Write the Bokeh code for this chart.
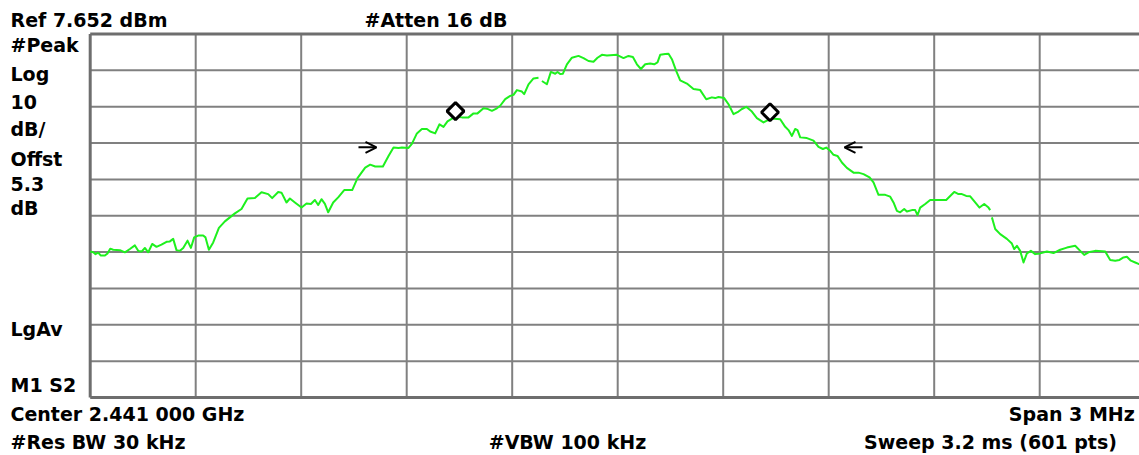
import math
from bokeh.plotting import figure
from bokeh.models import Label, Range1d, Arrow, OpenHead
from bokeh.embed import file_html
from bokeh.resources import INLINE

NaN = float("nan")

# ---- data (spectrum trace, MHz / dBm) ----
freq_mhz = [
    2439.5000, 2439.5085, 2439.5151, 2439.5227, 2439.5304, 2439.5418, 2439.5492, 2439.5569,
    2439.5654, 2439.5845, 2439.5987, 2439.6129, 2439.6271, 2439.6365, 2439.6459, 2439.6555,
    2439.6649, 2439.6763, 2439.6885, 2439.7027, 2439.7170, 2439.7266, 2439.7360, 2439.7454,
    2439.7551, 2439.7645, 2439.7767, 2439.7863, 2439.7957, 2439.8071, 2439.8213, 2439.8279,
    2439.8375, 2439.8498, 2439.8660, 2439.8830, 2439.8972, 2439.9115, 2439.9302, 2439.9473,
    2439.9683, 2439.9871, 2440.0062, 2440.0175, 2440.0346, 2440.0440, 2440.0582, 2440.0679,
    2440.0821, 2440.1009, 2440.1151, 2440.1276, 2440.1390, 2440.1483, 2440.1577, 2440.1674,
    2440.1768, 2440.1910, 2440.2052, 2440.2223, 2440.2450, 2440.2601, 2440.2820, 2440.2962,
    2440.3104, 2440.3323, 2440.3483, 2440.3625, 2440.3767, 2440.3864, 2440.4051, 2440.4148,
    2440.4290, 2440.4432, 2440.4574, 2440.4668, 2440.4810, 2440.4933, 2440.5046, 2440.5160,
    2440.5379, 2440.5570, 2440.5758, 2440.5900, 2440.6013, 2440.6184, 2440.6281, 2440.6423,
    2440.6565, 2440.6659, 2440.6801, 2440.6943, 2440.7037, 2440.7134, 2440.7276, 2440.7341,
    2440.7464, 2440.7606, 2440.7748, 2440.7800, 2440.7845, 2440.7987, 2440.8100, 2440.8223,
    2440.8288, 2440.8365, 2440.8442, 2440.8556, 2440.8698, 2440.8885, 2440.9028, 2440.9170,
    2440.9312, 2440.9426, 2440.9551, 2440.9693, 2440.9977, 2441.0165, 2441.0307, 2441.0432,
    2441.0546, 2441.0660, 2441.0782, 2441.0924, 2441.1038, 2441.1132, 2441.1209, 2441.1351,
    2441.1445, 2441.1541, 2441.1663, 2441.1777, 2441.1968, 2441.2155, 2441.2346, 2441.2517,
    2441.2679, 2441.2773, 2441.2866, 2441.3028, 2441.3151, 2441.3293, 2441.3435, 2441.3532,
    2441.3654, 2441.3816, 2441.3958, 2441.4146, 2441.4243, 2441.4385, 2441.4621, 2441.4763,
    2441.4857, 2441.4954, 2441.5047, 2441.5113, 2441.5190, 2441.5380, 2441.5568, 2441.5710,
    2441.5835, 2441.5929, 2441.6043, 2441.6137, 2441.6250, 2441.6375, 2441.6517, 2441.6706,
    2441.6848, 2441.6990, 2441.7161, 2441.7274, 2441.7416, 2441.7607, 2441.7749, 2441.7843,
    2441.7939, 2441.8033, 2441.8147, 2441.8224, 2441.8366, 2441.8460, 2441.8525, 2441.8602,
    2441.8744, 2441.8886, 2441.9077, 2441.9341, 2441.9455, 2441.9569, 2441.9691, 2441.9788,
    2441.9910, 2442.0024, 2442.0166, 2442.0288, 2442.0422, 2442.0544, 2442.0592, 2442.0615,
    2442.0641, 2442.0735, 2442.0877, 2442.1067, 2442.1209, 2442.1275, 2442.1352, 2442.1445,
    2442.1540, 2442.1636, 2442.1750, 2442.1872, 2442.2014, 2442.2205, 2442.2392, 2442.2583,
    2442.2773, 2442.3009, 2442.3152, 2442.3265, 2442.3388, 2442.3578, 2442.3863, 2442.4005,
    2442.4147, 2442.4269, 2442.4383, 2442.4479, 2442.4593, 2442.4716, 2442.4810, 2442.5000,
]
level_dbm = [
    -52.2, -52.4, -52.9, -52.5, -53.3, -53.3, -52.7, -51.4,
    -51.7, -51.8, -52.4, -51.5, -50.5, -52.0, -52.2, -51.2,
    -52.4, -50.1, -50.9, -50.3, -49.5, -49.4, -48.7, -51.8,
    -52.0, -51.2, -49.2, -51.2, -48.3, -47.8, -47.8, -48.3,
    -51.7, -49.7, -45.7, -43.9, -42.8, -41.7, -40.5, -37.6,
    -37.5, -35.9, -36.4, -37.5, -35.8, -36.0, -38.7, -37.6,
    -38.7, -40.1, -39.0, -39.1, -38.0, -39.4, -37.8, -39.1,
    -41.4, -38.7, -37.3, -35.3, -35.3, -32.0, -29.1, -28.3,
    -28.8, -28.8, -25.9, -23.6, -23.7, -23.6, -23.7, -22.6,
    -19.7, -18.5, -18.5, -19.2, -19.7, -17.2, -17.9, -16.4,
    -15.1, -15.3, -15.3, -14.2, -14.2, -12.8, -12.9, -13.5,
    -12.8, -12.1, -10.3, -9.4, -9.1, -7.8, -8.2, -8.9,
    -6.2, -4.6, -4.4, NaN, -5.3, -6.2, -2.8, -3.3,
    -2.8, -3.4, -3.3, -0.7, 1.1, 1.6, 1.0, 0.2,
    0.0, 1.1, 1.9, 1.7, 1.9, 1.0, 1.6, 1.3,
    -0.7, -2.0, -0.7, -0.5, -0.7, -0.2, 1.9, 2.1,
    2.2, 0.7, -2.5, -5.1, -6.0, -7.5, -7.8, -10.3,
    -9.8, -10.0, -9.7, -10.0, -11.7, -14.4, -13.7, -13.0,
    -12.4, -13.7, -15.5, -16.7, -16.2, -15.6, -15.8, -17.9,
    -18.8, -20.4, -18.5, -18.8, -20.8, -21.0, -21.7, -23.4,
    -24.0, -23.6, -24.5, -25.6, -25.9, -27.7, -29.2, -30.5,
    -30.5, -30.9, -31.8, -33.2, -36.6, -36.6, -37.1, -38.7,
    -41.0, -41.4, -40.5, -41.2, -40.8, -40.8, -42.2, -40.1,
    -39.1, -38.0, -38.0, -38.0, -36.9, -35.8, -36.4, -36.4,
    -36.9, -37.0, -38.7, -40.1, -39.1, -40.1, -40.8, NaN,
    -42.8, -46.0, -47.4, -48.7, -50.0, -51.5, -50.6, -52.0,
    -55.2, -52.7, -52.0, -52.9, -52.7, -52.2, -52.6, -51.7,
    -51.1, -50.6, -52.0, -53.1, -52.4, -52.0, -52.2, -54.5,
    -54.7, -54.5, -53.8, -53.6, -54.7, -55.2, -55.6, -55.8,
]

# markers (diamonds) and occupied-bandwidth arrows
marker_freq = [2440.5388, 2441.4331]
marker_level = [-13.58, -13.90]
obw_arrow_tail = [2440.2629, 2441.6961]
obw_arrow_head = [2440.3141, 2441.6449]
obw_arrow_level = [-23.53, -23.53]

# graticule
ref_level = 7.652
freq_grid = [2439.5, 2439.8, 2440.1, 2440.4, 2440.7, 2441.0, 2441.3, 2441.6, 2441.9, 2442.2, 2442.5]
level_grid = [7.652, -2.348, -12.348, -22.348, -32.348, -42.348, -52.348, -62.348, -72.348, -82.348, -92.348]

# annotation texts
labels_left = ["Ref 7.652 dBm", "#Peak", "Log", "10", "dB/", "Offst", "5.3", "dB", "LgAv", "M1 S2",
               "Center 2.441 000 GHz", "#Res BW 30 kHz"]

# ---- layout ----
W, H = 1139, 455
PX_PER_MHZ = 105.5 / 0.3
PX_PER_DB = 36.37 / 10.0
x_start = freq_grid[0] - 89.7 / PX_PER_MHZ
y_top = level_grid[0] + 33.4 / PX_PER_DB

p = figure(width=W, height=H,
           x_range=Range1d(x_start, x_start + W / PX_PER_MHZ),
           y_range=Range1d(y_top - H / PX_PER_DB, y_top),
           output_backend="svg", toolbar_location=None,
           x_axis_type=None, y_axis_type=None, min_border=0)
p.outline_line_color = None
p.background_fill_color = "white"
p.border_fill_color = "white"

grid_color = "#808080"
# inner grid lines
p.segment(x0=freq_grid[1:], y0=[level_grid[-1]] * (len(freq_grid) - 1),
          x1=freq_grid[1:], y1=[level_grid[0]] * (len(freq_grid) - 1),
          line_color=grid_color, line_width=2)
p.segment(x0=[freq_grid[0]] * (len(level_grid) - 2), y0=level_grid[1:-1],
          x1=[freq_grid[-1]] * (len(level_grid) - 2), y1=level_grid[1:-1],
          line_color=grid_color, line_width=2)
# frame border (left, top, bottom)
border_color = "#6e6e6e"
p.segment(x0=[freq_grid[0], freq_grid[0], freq_grid[0]],
          y0=[level_grid[-1], level_grid[0], level_grid[-1]],
          x1=[freq_grid[0], freq_grid[-1], freq_grid[-1]],
          y1=[level_grid[0], level_grid[0], level_grid[-1]],
          line_color=border_color, line_width=3)

# trace
p.line(freq_mhz, level_dbm, line_color="#1ef01e", line_width=2, line_join="round")

# markers
p.scatter(marker_freq, marker_level, marker="square", angle=math.pi / 4, size=12,
          line_width=3, line_color="black", fill_color="white")

for xs, xe, yy in zip(obw_arrow_tail, obw_arrow_head, obw_arrow_level):
    p.add_layout(Arrow(end=OpenHead(size=11, line_width=2, line_color="black"),
                       x_start=xs, y_start=yy, x_end=xe, y_end=yy,
                       line_width=2, line_color="black"))

FONT = dict(text_font="DejaVu Sans", text_font_style="bold", text_font_size="19px",
            text_color="black", text_baseline="alphabetic")
BASELINE_SHIFT = 7  # renderer places the alphabetic baseline this much lower


def add_label(text, x_px, baseline_px, align="left"):
    p.add_layout(Label(x=x_px, y=H - (baseline_px - BASELINE_SHIFT), x_units="screen", y_units="screen",
                       text=text, text_align=align, **FONT))


left_baselines = [26.7, 51, 80.7, 108.3, 135.7, 165, 190, 214, 335.7, 391.7, 420.7, 448.3]
for t, b in zip(labels_left, left_baselines):
    add_label(t, 10, b)
add_label("#Atten 16 dB", 364, 26.7)
add_label("#VBW 100 kHz", 567, 448.3, "center")
add_label("Span 3 MHz", 1134.3, 420, "right")
add_label("Sweep 3.2 ms (601 pts)", 990, 448.3, "center")

open("out.html", "w").write(file_html(p, INLINE))
